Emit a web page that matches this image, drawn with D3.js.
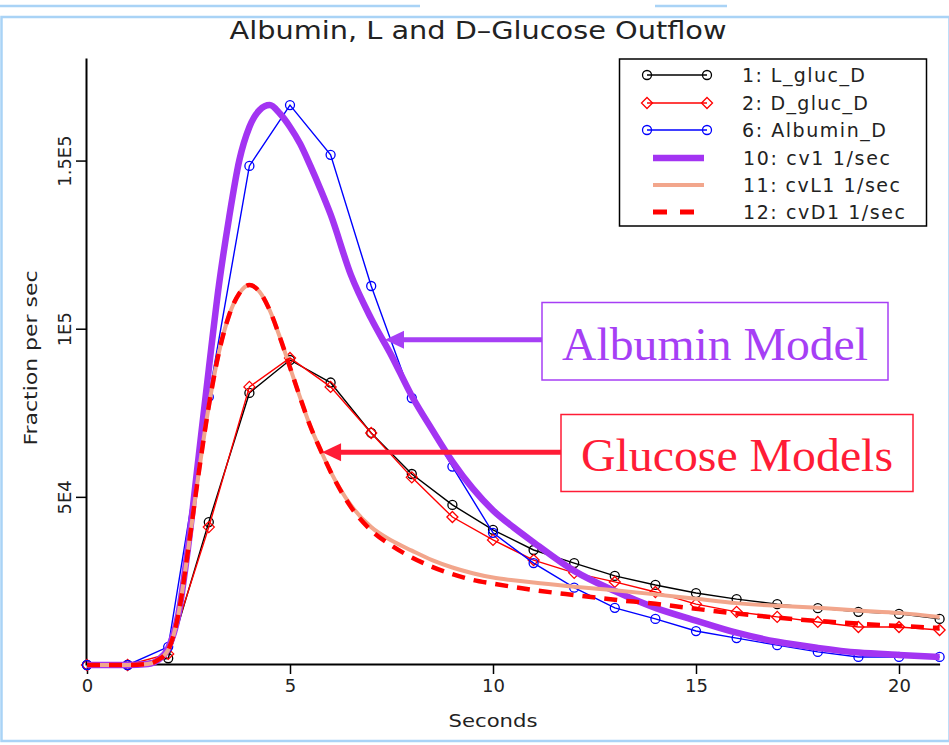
<!DOCTYPE html>
<html>
<head>
<meta charset="utf-8">
<script src="https://cdn.jsdelivr.net/npm/d3@7"></script>
<style>
  html, body { margin: 0; padding: 0; background: #ffffff; }
  svg { display: block; }
  text { font-family: "DejaVu Sans", "Liberation Sans", sans-serif; fill: #222; }
</style>
</head>
<body>
<script>
// ---------------- DATA ----------------
const dataT = [0,1,2,3,4,5,6,7,8,9,10,11,12,13,14,15,16,17,18,19,20,21];
const lGlucD   = [0,0,2000,42500,80900,90700,84000,69000,56800,47600,40200,34200,30300,26500,23800,21400,19600,18100,16900,15800,15200,13700];
const dGlucD   = [0,0,3300,41000,82700,91300,82700,69000,55800,44000,37200,31200,27400,24700,21700,18100,15800,14300,12800,11300,11300,10400];
const albuminD = [0,0,5400,79700,148400,166500,151700,112700,79400,59000,39300,30300,23000,17000,13700,10100,8000,5900,3900,2400,2400,2400];

const modelT = [0,0.5,1,1.5,1.75, 2,2.25,2.5,2.75, 3,3.25,3.5,3.75, 4,4.25,4.5,4.75, 5,5.25,5.5,5.75, 6,6.5,7,7.5, 8,8.5,9,9.5, 10,10.5,11, 12,13,14,15,16,17,18,19,20,21];
const cv1  = [0,0,0,300,1500, 5000,15000,36000,62000, 88000,113000,133000,150000, 160000,165000,166500,164000, 160000,155000,148500,141500, 134000,116000,103000,92000, 80000,70000,60500,52500, 46000,41000,36500, 28000,22000,17000,13200,9600,6900,5100,3700,3000,2400];
const cvL1 = [0,0,0,300,1500, 4500,15000,35000,57000, 77000,93000,104000,110500, 113000,111000,105500,97500, 88500,79500,71000,64000, 57500,47500,41000,37000, 34000,31200,29000,27300, 26000,25200,24500, 23300,22200,21000,19700,18400,17600,17000,16200,15500,14300];
const cvD1 = [0,0,0,300,1500, 4500,15000,35000,57000, 77000,93000,104000,110500, 113000,111000,105500,97500, 88500,79500,71000,64000, 57500,47000,40000,35500, 32000,29200,27000,25300, 24200,23200,22300, 20800,19400,18200,16700,15300,14100,13100,12300,11600,11000];

const xTicks = [0,5,10,15,20];
const yTicks = [50000,100000,150000];
const yTickLabels = ["5E4","1E5","1.5E5"];

const legendLabels = ["1: L_gluc_D","2: D_gluc_D","6: Albumin_D","10: cv1 1/sec","11: cvL1 1/sec","12: cvD1 1/sec"];
const titleText = "Albumin, L and D\u2013Glucose Outflow";
const xLabel = "Seconds";
const yLabel = "Fraction per sec";
const annotAlbumin = "Albumin Model";
const annotGlucose = "Glucose Models";

// ---------------- STYLES ----------------
const C = {
  black: "#000000", red: "#ff0000", blue: "#0000ff",
  purple: "#a334f2", salmon: "#f2a68c", redDash: "#ff0000",
  frame: "#a9d3f6", albumin: "#a63ff5", glucose: "#ff1c36"
};

const W = 949, H = 745;
const svg = d3.select("body").append("svg").attr("width", W).attr("height", H);

// outer frame
svg.append("rect").attr("x", 0).attr("y", 0).attr("width", W).attr("height", H).attr("fill", "#fff");
svg.append("line").attr("x1", 0).attr("x2", 420).attr("y1", 6).attr("y2", 6).attr("stroke", C.frame).attr("stroke-width", 2.5);
svg.append("line").attr("x1", 655).attr("x2", 727).attr("y1", 6).attr("y2", 6).attr("stroke", C.frame).attr("stroke-width", 2.5);
svg.append("rect").attr("x", 1.5).attr("y", 17).attr("width", W - 1).attr("height", 724)
  .attr("fill", "none").attr("stroke", C.frame).attr("stroke-width", 2.5);

// scales
const x = d3.scaleLinear().domain([0, 21]).range([87, 939.6]);
const y = d3.scaleLinear().domain([0, 180500]).range([665, 58]);

// title
svg.append("text").attr("x", 478).attr("y", 39).attr("text-anchor", "middle")
  .attr("font-size", 24).attr("textLength", 497).attr("lengthAdjust", "spacingAndGlyphs")
  .text(titleText);

// axes
const xAxis = svg.append("g").attr("transform", `translate(0,${y(0) - 1})`)
  .call(d3.axisBottom(x).tickValues(xTicks).tickSize(10).tickSizeOuter(0).tickPadding(4).tickFormat(d3.format("d")));
xAxis.select(".domain").attr("stroke", "#000").attr("stroke-width", 2);
xAxis.selectAll(".tick line").attr("stroke", "#000").attr("stroke-width", 1.5);
xAxis.selectAll(".tick text").attr("font-size", 18).attr("fill", "#222")
  .attr("font-family", "DejaVu Sans, sans-serif").attr("dy", "0.75em");

const yAxis = svg.append("g").attr("transform", `translate(${x(0) - 1},0)`)
  .call(d3.axisLeft(y).tickValues(yTicks).tickSize(10).tickSizeOuter(0)
    .tickFormat((d, i) => yTickLabels[i]));
yAxis.select(".domain").attr("stroke", "#000").attr("stroke-width", 2);
yAxis.selectAll(".tick line").attr("stroke", "#000").attr("stroke-width", 1.5);
yAxis.selectAll(".tick text").attr("font-size", 18).attr("fill", "#222")
  .attr("font-family", "DejaVu Sans, sans-serif")
  .attr("x", null).attr("dy", null)
  .attr("text-anchor", "middle")
  .attr("transform", "translate(-15,0) rotate(-90)");

// axis labels
svg.append("text").attr("x", x(10)).attr("y", 727).attr("text-anchor", "middle")
  .attr("font-size", 18).attr("textLength", 89).attr("lengthAdjust", "spacingAndGlyphs").text(xLabel);
svg.append("text").attr("transform", `translate(37,${358}) rotate(-90)`).attr("text-anchor", "middle")
  .attr("font-size", 18).attr("textLength", 175).attr("lengthAdjust", "spacingAndGlyphs").text(yLabel);

// ---------------- SERIES ----------------
const plot = svg.append("g");
const dataLine = d3.line().x(d => x(d[0])).y(d => y(d[1]));
const modelLine = d3.line().x(d => x(d[0])).y(d => y(d[1])).curve(d3.curveMonotoneX);
const diamond = "M0,-5.5L5.5,0L0,5.5L-5.5,0Z";

function drawData(vals, color, marker) {
  const pts = dataT.map((t, i) => [t, vals[i]]);
  plot.append("path").attr("d", dataLine(pts)).attr("fill", "none")
    .attr("stroke", color).attr("stroke-width", 1.4);
  const g = plot.append("g");
  pts.forEach(p => drawMarker(g, x(p[0]), y(p[1]), color, marker));
}
function drawMarker(g, cx, cy, color, marker) {
  if (marker === "diamond") {
    g.append("path").attr("d", diamond).attr("transform", `translate(${cx},${cy})`)
      .attr("fill", "none").attr("stroke", color).attr("stroke-width", 1.3);
  } else {
    g.append("circle").attr("cx", cx).attr("cy", cy).attr("r", 4.5)
      .attr("fill", "none").attr("stroke", color).attr("stroke-width", 1.3);
  }
}
function drawModel(vals, color, width, dash) {
  const pts = modelT.map((t, i) => [t, vals[i]]);
  const p = plot.append("path").attr("d", modelLine(pts)).attr("fill", "none")
    .attr("stroke", color).attr("stroke-width", width).attr("stroke-linejoin", "round");
  if (dash) p.attr("stroke-dasharray", dash);
}

drawData(lGlucD, C.black, "circle");
drawData(dGlucD, C.red, "diamond");
drawData(albuminD, C.blue, "circle");
drawModel(cv1, C.purple, 6.5);
drawModel(cvL1, C.salmon, 4);
drawModel(cvD1, C.redDash, 4.5, "13,9");

// ---------------- LEGEND ----------------
const lg = svg.append("g");
lg.append("rect").attr("x", 619.5).attr("y", 59).attr("width", 307).attr("height", 167)
  .attr("fill", "#fff").attr("stroke", "#000").attr("stroke-width", 1.5);
const rowY = [75, 103, 130, 158, 185, 212];
const legendStyles = [
  {type: "data", color: C.black, marker: "circle"},
  {type: "data", color: C.red, marker: "diamond"},
  {type: "data", color: C.blue, marker: "circle"},
  {type: "model", color: C.purple, width: 6.5},
  {type: "model", color: C.salmon, width: 4},
  {type: "model", color: C.redDash, width: 5, dash: "14,13"}
];
const legendWidths = [123, 126, 144, 147, 157, 162];
legendLabels.forEach((lab, i) => {
  const s = legendStyles[i], yy = rowY[i];
  if (s.type === "data") {
    lg.append("line").attr("x1", 647).attr("x2", 707).attr("y1", yy).attr("y2", yy)
      .attr("stroke", s.color).attr("stroke-width", 1.4);
    drawMarker(lg, 647, yy, s.color, s.marker);
    drawMarker(lg, 707, yy, s.color, s.marker);
  } else {
    const l = lg.append("line").attr("x1", 653).attr("x2", s.dash ? 694 : 704).attr("y1", yy).attr("y2", yy)
      .attr("stroke", s.color).attr("stroke-width", s.width);
    if (s.dash) l.attr("stroke-dasharray", s.dash);
  }
  lg.append("text").attr("x", i < 3 ? 742 : 743).attr("y", yy + 7).attr("font-size", 19)
    .attr("textLength", legendWidths[i]).attr("lengthAdjust", "spacing").text(lab);
});

// ---------------- ANNOTATIONS ----------------
const ann = svg.append("g");
function arrow(tipT, tipV, startX, color) {
  const tx = x(tipT), ty = y(tipV);
  ann.append("line").attr("x1", startX).attr("x2", tx + 16).attr("y1", ty).attr("y2", ty)
    .attr("stroke", color).attr("stroke-width", 5);
  ann.append("path").attr("d", `M${tx},${ty}L${tx + 19},${ty - 9}L${tx + 19},${ty + 9}Z`).attr("fill", color);
}
// Albumin Model box
ann.append("rect").attr("x", 542).attr("y", 302.5).attr("width", 346).attr("height", 77.5)
  .attr("fill", "#fff").attr("stroke", C.albumin).attr("stroke-width", 1.5);
ann.append("text").attr("x", 562).attr("y", 360).attr("font-size", 47)
  .style("font-family", "'Liberation Serif', serif").style("fill", C.albumin)
  .attr("textLength", 306).attr("lengthAdjust", "spacingAndGlyphs").text(annotAlbumin);
arrow(7.34, 96700, 542, C.albumin);

// Glucose Models box
ann.append("rect").attr("x", 561).attr("y", 414.5).attr("width", 352).attr("height", 77)
  .attr("fill", "#fff").attr("stroke", C.glucose).attr("stroke-width", 1.5);
ann.append("text").attr("x", 581).attr("y", 471).attr("font-size", 47)
  .style("font-family", "'Liberation Serif', serif").style("fill", C.glucose)
  .attr("textLength", 312).attr("lengthAdjust", "spacingAndGlyphs").text(annotGlucose);
arrow(5.79, 63300, 561, C.glucose);
</script>
</body>
</html>
